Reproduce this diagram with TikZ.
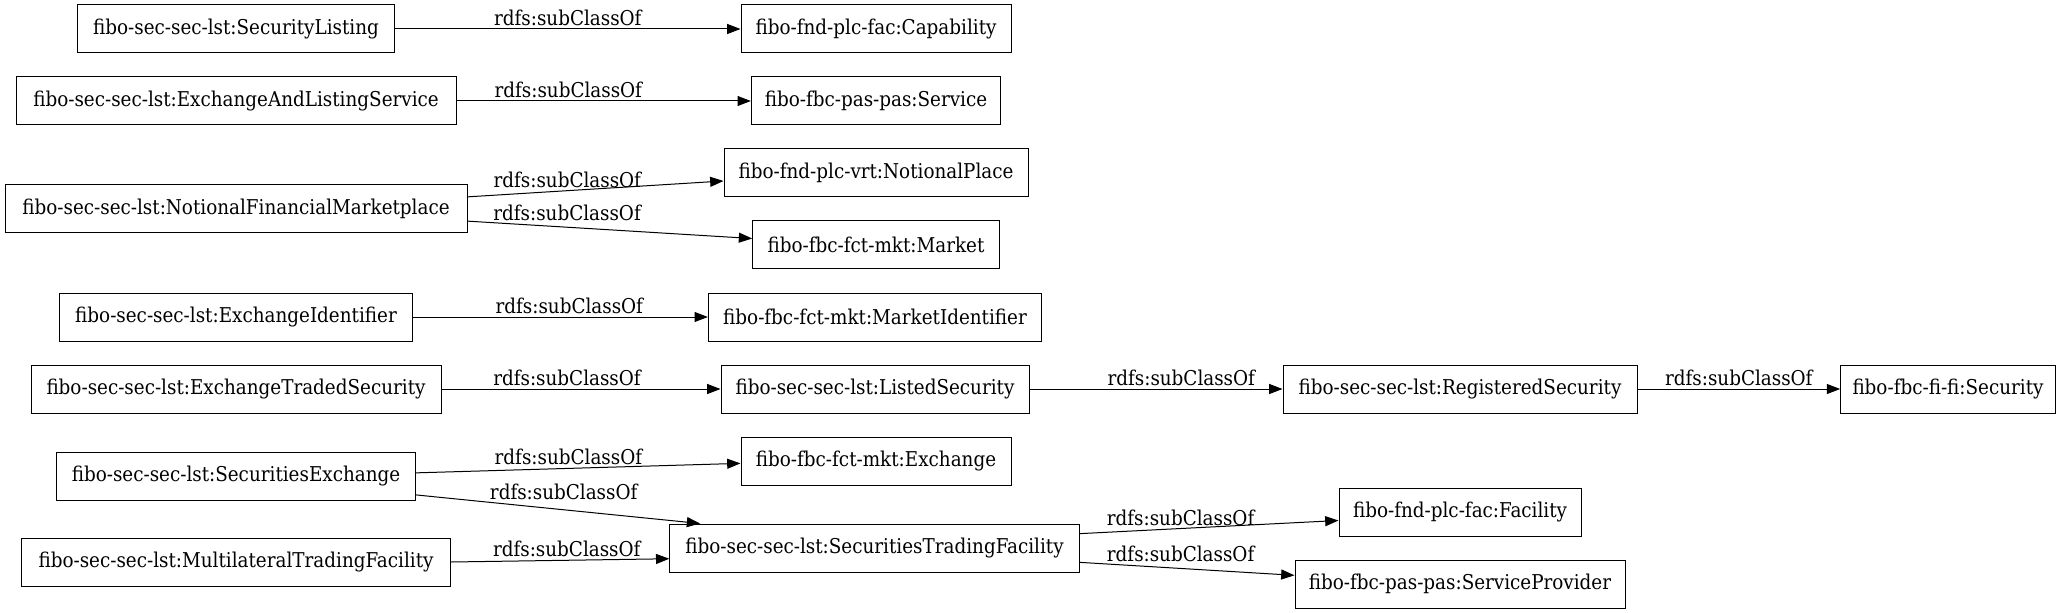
\documentclass[tikz,border=0pt]{standalone}
\usepackage{fontspec}
\setmainfont{DejaVu Serif Condensed}
\usepackage{tikz}
\usetikzlibrary{arrows.meta, positioning}

\begin{document}
\begin{tikzpicture}[
    x=0.75pt, y=-0.75pt,
    cls/.style={draw, line width=0.75pt, minimum height=36pt, inner sep=0pt, font=\fontsize{15.3pt}{17pt}\selectfont},
    sub/.style={-{Stealth[length=10pt, width=7.5pt, inset=0pt]}, line width=0.75pt},
    lbl/.style={above, inner sep=2pt, font=\fontsize{15.3pt}{17pt}\selectfont}
]
    \useasboundingbox (0,0) rectangle (2061,613);

    % Subclasses
    \node[cls, minimum width=238pt] (seclisting) at (236,29) {fibo-sec-sec-lst:SecurityListing};
    \node[cls, minimum width=330pt] (exlistsvc) at (236,101) {fibo-sec-sec-lst:ExchangeAndListingService};
    \node[cls, minimum width=346.5pt] (nfm) at (236,209) {fibo-sec-sec-lst:NotionalFinancialMarketplace};
    \node[cls, minimum width=265pt] (exid) at (236,317) {fibo-sec-sec-lst:ExchangeIdentifier};
    \node[cls, minimum width=307.5pt] (ets) at (236,389) {fibo-sec-sec-lst:ExchangeTradedSecurity};
    \node[cls, minimum width=269pt] (secex) at (236,476) {fibo-sec-sec-lst:SecuritiesExchange};
    \node[cls, minimum width=322pt] (mtf) at (236,562) {fibo-sec-sec-lst:MultilateralTradingFacility};

    % Middle column
    \node[cls, minimum width=202.5pt] (capability) at (876,29) {fibo-fnd-plc-fac:Capability};
    \node[cls, minimum width=187pt] (service) at (876,101) {fibo-fbc-pas-pas:Service};
    \node[cls, minimum width=228pt] (notionalplace) at (876,173) {fibo-fnd-plc-vrt:NotionalPlace};
    \node[cls, minimum width=185pt] (market) at (876,245) {fibo-fbc-fct-mkt:Market};
    \node[cls, minimum width=250pt] (marketid) at (875,317) {fibo-fbc-fct-mkt:MarketIdentifier};
    \node[cls, minimum width=231pt] (listedsec) at (875,389) {fibo-sec-sec-lst:ListedSecurity};
    \node[cls, minimum width=202.5pt] (exchange) at (876,461) {fibo-fbc-fct-mkt:Exchange};
    \node[cls, minimum width=307pt] (stf) at (874.5,548) {fibo-sec-sec-lst:SecuritiesTradingFacility};

    % Right columns
    \node[cls, minimum width=265.5pt] (regsec) at (1460,389) {fibo-sec-sec-lst:RegisteredSecurity};
    \node[cls, minimum width=181.5pt] (facility) at (1460,512) {fibo-fnd-plc-fac:Facility};
    \node[cls, minimum width=247.5pt] (svcprovider) at (1460,584) {fibo-fbc-pas-pas:ServiceProvider};
    \node[cls, minimum width=161pt] (security) at (1948,389) {fibo-fbc-fi-fi:Security};

    % subClassOf edges
    \draw[sub] (seclisting) -- node[lbl] {rdfs:subClassOf} (capability);
    \draw[sub] (exlistsvc) -- node[lbl, pos=0.38] {rdfs:subClassOf} (service);
    \draw[sub] (nfm.3) -- node[lbl, pos=0.39] {rdfs:subClassOf} (notionalplace.183);
    \draw[sub] (nfm.-3) -- node[lbl, pos=0.35, yshift=2.5pt] {rdfs:subClassOf} (market.177);
    \draw[sub] (exid) -- node[lbl, pos=0.53] {rdfs:subClassOf} (marketid);
    \draw[sub] (ets) -- node[lbl, pos=0.45] {rdfs:subClassOf} (listedsec);
    \draw[sub] (listedsec) -- node[lbl, pos=0.6] {rdfs:subClassOf} (regsec);
    \draw[sub] (regsec) -- node[lbl] {rdfs:subClassOf} (security);
    \draw[sub] (secex.1) -- node[lbl, pos=0.47] {rdfs:subClassOf} (exchange.181);
    \draw[sub] (secex.-6) -- node[lbl, pos=0.52, yshift=5pt] {rdfs:subClassOf} (stf.172);
    \draw[sub] (mtf.east) -- node[lbl, pos=0.53] {rdfs:subClassOf} (stf.183);
    \draw[sub] (stf.4) -- node[lbl, pos=0.39] {rdfs:subClassOf} (facility.184);
    \draw[sub] (stf.-4) -- node[lbl, pos=0.47, yshift=2.5pt] {rdfs:subClassOf} (svcprovider.177);
\end{tikzpicture}
\end{document}
